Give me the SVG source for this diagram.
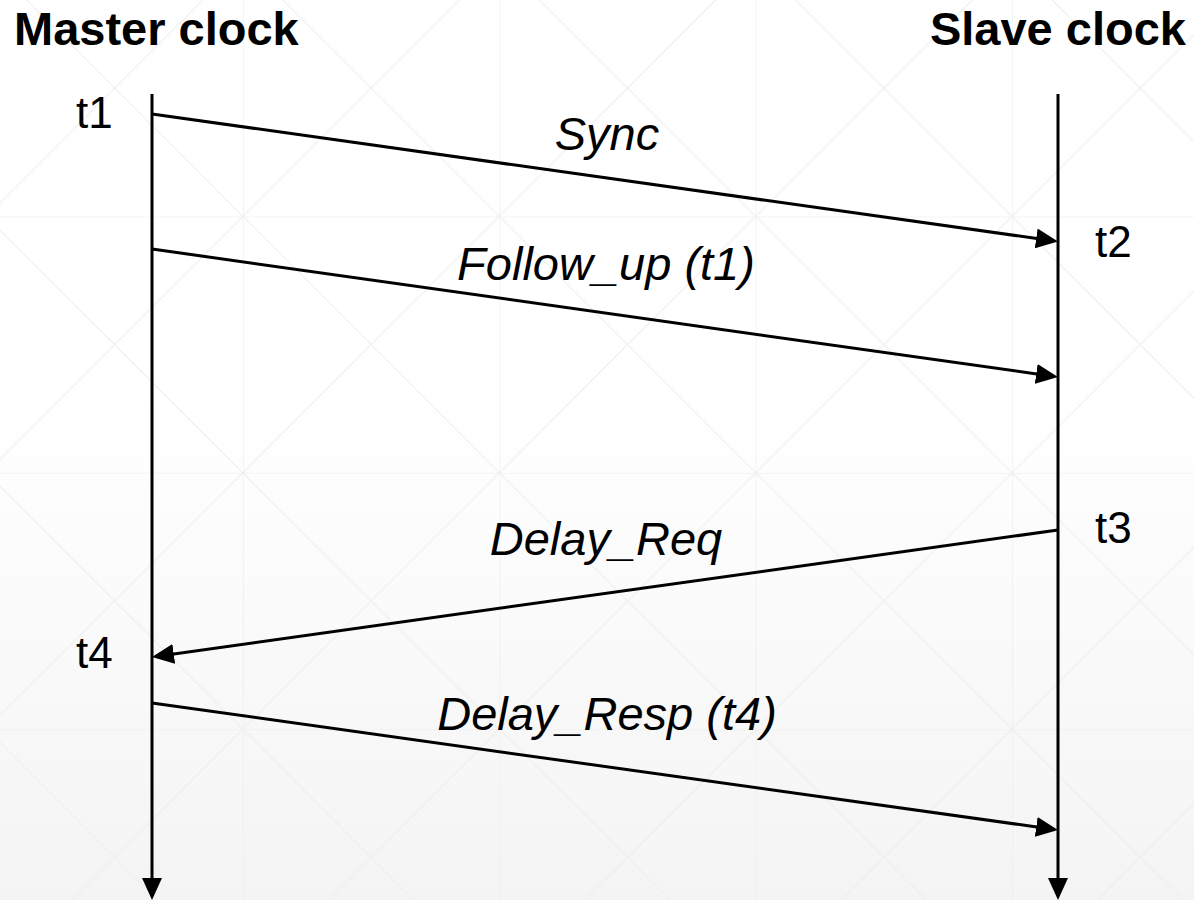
<svg xmlns="http://www.w3.org/2000/svg" width="1194" height="900" viewBox="0 0 1194 900">
  <defs>
    <!-- soft page background: white fading to light grey -->
    <linearGradient id="bg" x1="0" y1="0" x2="0" y2="1">
      <stop offset="0" stop-color="#ffffff"/>
      <stop offset="0.45" stop-color="#ffffff"/>
      <stop offset="1" stop-color="#f4f4f4"/>
    </linearGradient>
    <!-- faint square grid with corner-to-corner diagonals -->
    <pattern id="grid" patternUnits="userSpaceOnUse" x="-13.5" y="-40" width="256.4" height="256.4">
      <path d="M0,0 V256.4 M0,0 H256.4" stroke="#ebebeb" stroke-width="1.2" fill="none"/>
      <path d="M0,0 L256.4,256.4 M256.4,0 L0,256.4" stroke="#eeeeee" stroke-width="1.2" fill="none"/>
    </pattern>
    <marker id="arrow" markerUnits="userSpaceOnUse" markerWidth="22" markerHeight="20" refX="18" refY="10" orient="auto">
      <path d="M0,0 L22,10 L0,20 Z" fill="#000"/>
    </marker>
    <style>
      .title { font-family: "Liberation Sans", Arial, sans-serif; font-weight: bold; font-size: 47px; fill: #000; }
      .tick  { font-family: "Liberation Sans", Arial, sans-serif; font-size: 44px; fill: #000; }
      .msg   { font-family: "Liberation Sans", Arial, sans-serif; font-style: italic; font-size: 47px; fill: #000; text-anchor: middle; }
      .line  { stroke: #000; stroke-width: 3; fill: none; marker-end: url(#arrow); }
      .plain { stroke: #000; stroke-width: 3; fill: none; }
    </style>
  </defs>

  <rect width="1194" height="900" fill="url(#bg)"/>
  <rect width="1194" height="900" fill="url(#grid)"/>

  <!-- master clock lifeline -->
  <g id="master">
    <text class="title" x="14" y="45">Master clock</text>
    <line class="line" x1="152" y1="94" x2="152" y2="896"/>
    <text class="tick" x="76" y="128">t1</text>
    <text class="tick" x="76" y="668">t4</text>
  </g>

  <!-- slave clock lifeline -->
  <g id="slave">
    <text class="title" x="1186" y="45" text-anchor="end">Slave clock</text>
    <line class="line" x1="1058" y1="94" x2="1058" y2="896"/>
    <text class="tick" x="1095" y="257">t2</text>
    <text class="tick" x="1095" y="543">t3</text>
  </g>

  <!-- messages between the clocks -->
  <g id="connectors">
    <line class="line" x1="152" y1="114" x2="1054.04" y2="240.94"/>
    <line class="line" x1="152" y1="249" x2="1054.04" y2="376.44"/>
    <line class="line" x1="1058" y1="530" x2="155.96" y2="656.44"/>
    <line class="line" x1="152" y1="703" x2="1054.04" y2="829.44"/>
  </g>

  <g id="labels">
    <text class="msg" x="607" y="150">Sync</text>
    <text class="msg" x="606" y="280">Follow_up (t1)</text>
    <text class="msg" x="606" y="555">Delay_Req</text>
    <text class="msg" x="607" y="730">Delay_Resp (t4)</text>
  </g>
</svg>
